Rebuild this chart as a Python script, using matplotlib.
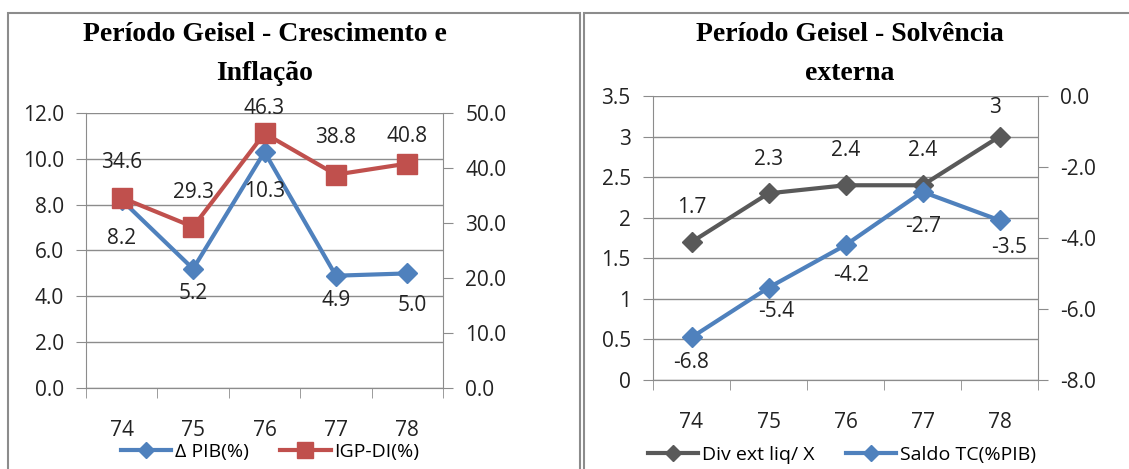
import numpy as np
import matplotlib.pyplot as plt
from matplotlib.patches import Rectangle

anos = ['74', '75', '76', '77', '78']

pib = [8.2, 5.2, 10.3, 4.9, 5.0]
igp = [34.6, 29.3, 46.3, 38.8, 40.8]

div_ext = [1.7, 2.3, 2.4, 2.4, 3]
saldo_tc = [-6.8, -5.4, -4.2, -2.7, -3.5]

# label offsets in pixels (moved by hand in the original)
off_pib = [(0, -38), (0, -25), (0, -40), (0, -25), (5, -32)]
off_igp = [(0, 35), (0, 34), (0, 25), (0, 37), (0, 27)]
off_div = [(0, 35), (0, 34), (0, 35), (0, 35), (-5, 29)]
off_saldo = [(0, -25), (8, -24), (6, -30), (1, -35), (10, -27)]

BLUE = '#4F81BD'
RED = '#C0504D'
DGRAY = '#595959'
GRID = '#8C8C8C'
TXT = '#222222'
FS = 15

plt.rcParams['font.family'] = ['Open Sans', 'DejaVu Sans']

W, H = 1129, 469
fig = plt.figure(figsize=(W / 100, H / 100), dpi=100)


def box(l, t, r, b):
    return [l / W, 1 - b / H, (r - l) / W, (b - t) / H]


# panel borders
fig.patches.append(Rectangle((8 / W, -0.01), (580 - 8) / W, 1 - 13 / H + 0.01,
                             transform=fig.transFigure, fill=False,
                             edgecolor='#8C8C8C', lw=1.5))
fig.patches.append(Rectangle((584 / W, -0.01), (1140 - 584) / W, 1 - 13 / H + 0.01,
                             transform=fig.transFigure, fill=False,
                             edgecolor='#8C8C8C', lw=1.5))


def style(ax, ax2):
    x = np.arange(len(anos))
    for a in (ax, ax2):
        for s in a.spines.values():
            s.set_color(GRID)
        a.spines['top'].set_visible(False)
        a.tick_params(axis='y', length=7, color=GRID, labelsize=FS, pad=9,
                      labelcolor=TXT)
    ax.spines['right'].set_visible(False)
    ax2.spines['left'].set_visible(False)
    ax.set_xlim(-0.5, len(anos) - 0.5)
    ax.set_xticks(x)
    ax.set_xticklabels(anos)
    ax.set_xticks(np.arange(-0.5, len(anos)), minor=True)
    ax.tick_params(axis='x', which='major', length=0, labelsize=FS, pad=23,
                   labelcolor=TXT)
    ax.tick_params(axis='x', which='minor', length=7, color=GRID)
    ax.yaxis.grid(True, color=GRID, lw=1)
    ax.set_axisbelow(True)


# left chart
ax = fig.add_axes(box(86, 113, 443, 388))
ax2 = ax.twinx()
x = np.arange(len(anos))
l1, = ax.plot(x, pib, color=BLUE, lw=3, marker='D', ms=10, label='Δ PIB(%)')
l2, = ax2.plot(x, igp, color=RED, lw=3, marker='s', ms=15, label='IGP-DI(%)')
ax.set_ylim(0, 12)
ax.set_yticks(np.arange(0, 12.1, 2))
ax.set_yticklabels([f'{v:.1f}' for v in np.arange(0, 12.1, 2)])
ax2.set_ylim(0, 50)
ax2.set_yticks(np.arange(0, 50.1, 10))
ax2.set_yticklabels([f'{v:.1f}' for v in np.arange(0, 50.1, 10)])
style(ax, ax2)
for i, v in enumerate(pib):
    ax.annotate(f'{v:.1f}', (x[i], v), xytext=off_pib[i], textcoords='offset pixels',
                ha='center', va='center', fontsize=FS, color=TXT)
for i, v in enumerate(igp):
    ax2.annotate(f'{v:.1f}', (x[i], v), xytext=off_igp[i], textcoords='offset pixels',
                 ha='center', va='center', fontsize=FS, color=TXT)
fig.text(265 / W, 1 - 54 / H, 'Período Geisel - Crescimento e\nInflação',
         ha='center', va='center', fontsize=20, fontweight='bold',
         family='Liberation Serif', linespacing=1.7)
fig.legend(handles=[l1, l2], loc='center', bbox_to_anchor=(270 / W, 1 - 452 / H),
           ncol=2, frameon=False, fontsize=14, handlelength=2.6, markerscale=0.8,
           columnspacing=1.6, handletextpad=0.2, borderpad=0)

# right chart
bx = fig.add_axes(box(653, 96, 1038, 380))
bx2 = bx.twinx()
m1, = bx.plot(x, div_ext, color=DGRAY, lw=3, marker='D', ms=10, label='Div ext liq/ X')
m2, = bx2.plot(x, saldo_tc, color=BLUE, lw=3, marker='D', ms=10, label='Saldo TC(%PIB)')
bx.set_ylim(0, 3.5)
bx.set_yticks(np.arange(0, 3.51, 0.5))
bx.set_yticklabels(['0', '0.5', '1', '1.5', '2', '2.5', '3', '3.5'])
bx2.set_ylim(-8, 0)
bx2.set_yticks(np.arange(-8, 0.1, 2))
bx2.set_yticklabels([f'{v:.1f}' for v in np.arange(-8, 0.1, 2)])
style(bx, bx2)
for i, v in enumerate(div_ext):
    bx.annotate(f'{v:g}', (x[i], v), xytext=off_div[i], textcoords='offset pixels',
                ha='center', va='center', fontsize=FS, color=TXT)
for i, v in enumerate(saldo_tc):
    bx2.annotate(f'{v:.1f}', (x[i], v), xytext=off_saldo[i], textcoords='offset pixels',
                 ha='center', va='center', fontsize=FS, color=TXT)
fig.text(850 / W, 1 - 54 / H, 'Período Geisel - Solvência\nexterna',
         ha='center', va='center', fontsize=20, fontweight='bold',
         family='Liberation Serif', linespacing=1.7)
fig.legend(handles=[m1, m2], loc='center', bbox_to_anchor=(842 / W, 1 - 455 / H),
           ncol=2, frameon=False, fontsize=14, handlelength=2.6, markerscale=0.8,
           columnspacing=1.6, handletextpad=0.2, borderpad=0)

fig.savefig('out.png', dpi=100)
